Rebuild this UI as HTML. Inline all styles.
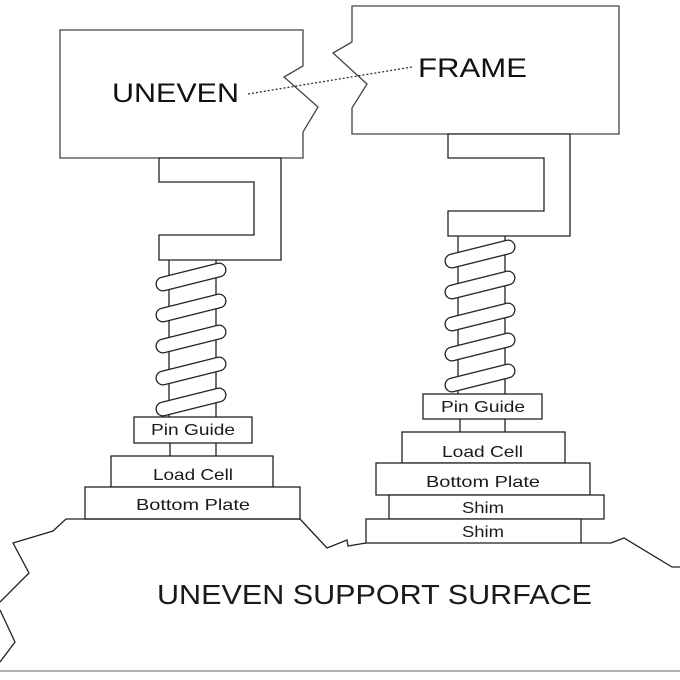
<!DOCTYPE html>
<html><head><meta charset="utf-8"><style>html,body{margin:0;padding:0;background:#fff}svg{display:block}</style></head>
<body>
<svg width="680" height="680" viewBox="0 0 680 680" xmlns="http://www.w3.org/2000/svg" font-family="'Liberation Sans Narrow','Liberation Sans',sans-serif" fill="none" stroke="#222" stroke-width="1.3">
<defs>
<g id="coil">
<line x1="163" y1="284" x2="219" y2="270" stroke="#222" stroke-width="15" stroke-linecap="round"/>
<line x1="163" y1="284" x2="219" y2="270" stroke="#fff" stroke-width="12.4" stroke-linecap="round"/>
</g>
</defs>
<!-- left frame -->
<path d="M60,30 H303 V66 L284,77 L318,107 L303,132 V158 H60 Z" fill="#fff" stroke="#444"/>
<!-- right frame -->
<path d="M352,6 H619 V134 H352 V108 L367,84 L333,53 L352,42 Z" fill="#fff" stroke="#444"/>
<line x1="248" y1="94" x2="412" y2="67" stroke-dasharray="2,2" stroke="#333"/>
<g fill="#111" stroke="none">
<text x="112" y="102" font-family="'Liberation Sans',sans-serif" font-size="27" textLength="127" lengthAdjust="spacingAndGlyphs">UNEVEN</text>
<text x="418" y="77" font-family="'Liberation Sans',sans-serif" font-size="27" textLength="109" lengthAdjust="spacingAndGlyphs">FRAME</text>
</g>
<!-- brackets -->
<path d="M159,158 H281 V260 H159 V235 H254 V182 H159 Z" fill="#fff"/>
<path d="M448,134 H570 V236 H448 V211 H544 V158 H448 Z" fill="#fff"/>
<!-- left rod -->
<line x1="169" y1="260" x2="169" y2="417"/><line x1="216" y1="260" x2="216" y2="417"/>
<line x1="170" y1="443" x2="170" y2="456"/><line x1="216" y1="443" x2="216" y2="456"/>
<use href="#coil"/>
<use href="#coil" transform="translate(0,31)"/>
<use href="#coil" transform="translate(0,62)"/>
<use href="#coil" transform="translate(0,94)"/>
<use href="#coil" transform="translate(0,125)"/>
<!-- right rod -->
<line x1="458" y1="236" x2="458" y2="394"/><line x1="505" y1="236" x2="505" y2="394"/>
<line x1="460" y1="419" x2="460" y2="432"/><line x1="505" y1="419" x2="505" y2="432"/>
<use href="#coil" transform="translate(289,-23)"/>
<use href="#coil" transform="translate(289,8)"/>
<use href="#coil" transform="translate(289,40)"/>
<use href="#coil" transform="translate(289,70)"/>
<use href="#coil" transform="translate(289,101)"/>
<!-- left stack -->
<rect x="134" y="417" width="118" height="26" fill="#fff"/>
<rect x="111" y="456" width="162" height="31" fill="#fff"/>
<rect x="85" y="487" width="215" height="32" fill="#fff"/>
<!-- right stack -->
<rect x="423" y="394" width="119" height="25" fill="#fff"/>
<rect x="402" y="432" width="163" height="31" fill="#fff"/>
<rect x="376" y="463" width="214" height="32" fill="#fff"/>
<rect x="389" y="495" width="215" height="24" fill="#fff"/>
<rect x="366" y="519" width="215" height="24" fill="#fff"/>
<g fill="#1a1a1a" stroke="none" font-size="16">
<text x="151" y="435" textLength="84" lengthAdjust="spacingAndGlyphs">Pin Guide</text>
<text x="153" y="480" textLength="80" lengthAdjust="spacingAndGlyphs">Load Cell</text>
<text x="136" y="510" textLength="114" lengthAdjust="spacingAndGlyphs">Bottom Plate</text>
<text x="441" y="412" textLength="84" lengthAdjust="spacingAndGlyphs">Pin Guide</text>
<text x="442" y="457" textLength="81" lengthAdjust="spacingAndGlyphs">Load Cell</text>
<text x="426" y="487" textLength="114" lengthAdjust="spacingAndGlyphs">Bottom Plate</text>
<text x="462" y="513" textLength="42" lengthAdjust="spacingAndGlyphs">Shim</text>
<text x="462" y="537" textLength="42" lengthAdjust="spacingAndGlyphs">Shim</text>
<text x="157" y="604" font-size="28" textLength="435" lengthAdjust="spacingAndGlyphs">UNEVEN SUPPORT SURFACE</text>
</g>
<!-- ground -->
<polyline points="300,519 66,519 53,531 13,543 29,573 0,602"/>
<polyline points="0,610 15,642 0,662"/>
<polyline points="300,519 327,548 347,540 348,546 366,543"/>
<polyline points="581,543 611,543 624,538 672,567 680,567"/>
<line x1="0" y1="671" x2="680" y2="671" stroke="#999" stroke-width="1.5"/>
</svg>
</body></html>
